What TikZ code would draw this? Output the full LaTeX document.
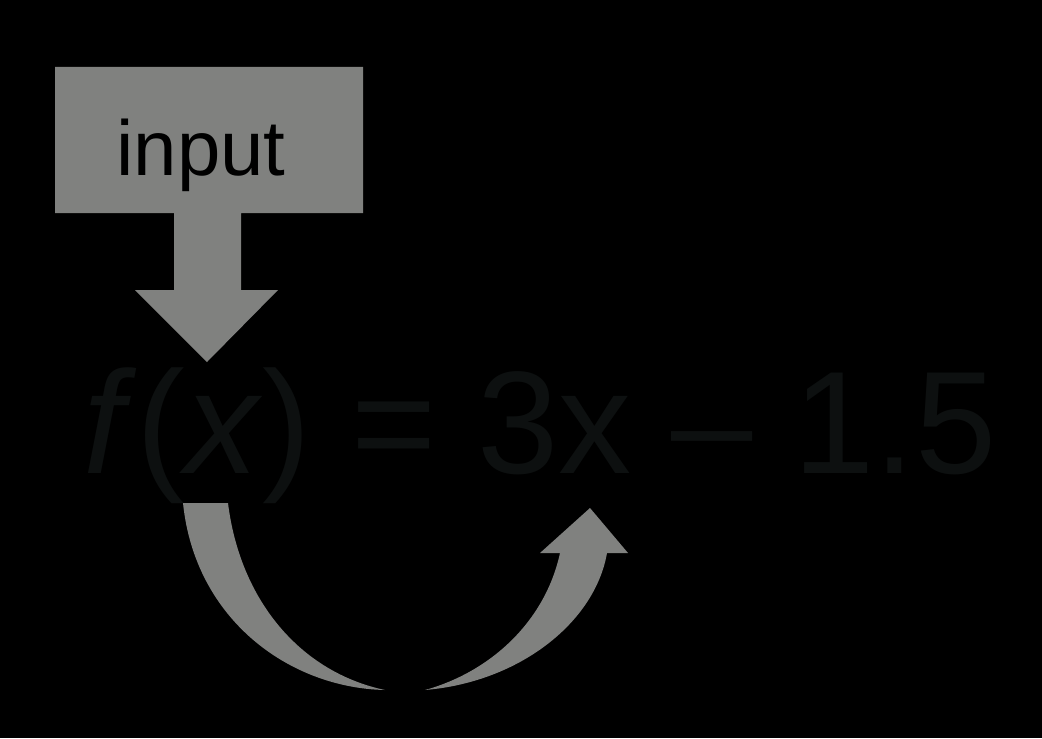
\documentclass[tikz,border=0pt]{standalone}
\usepackage{fontspec}
\setmainfont{Liberation Sans}
\usepackage{tikz}
\usetikzlibrary{arrows.meta,calc}

\definecolor{boxgray}{RGB}{128,129,127}
\definecolor{inkdark}{RGB}{13,16,16}

\begin{document}
\begin{tikzpicture}[x=0.5pt, y=-0.5pt, >=Stealth, thick]
    % 背景
    \fill[black] (0, 0) rectangle (1042, 738);
    \useasboundingbox (0, 0) rectangle (1042, 738);

    % 输入框与向下的箭头
    \fill[boxgray] (55, 67) -- (363, 67) -- (363, 213) -- (241, 213) -- (241, 290)
        -- (278, 290) -- (207, 362) -- (135, 290) -- (174, 290) -- (174, 213)
        -- (55, 213) -- cycle;
    \node[anchor=base, inner sep=0, text=black, font=\fontsize{39}{47}\selectfont]
        (input) at (201, 175) {input};

    % 函数式
    \node[anchor=base, inner sep=0, text=inkdark, font=\fontsize{73}{87}\selectfont]
        (func) at (540, 473) {\textit{f}(\textit{x}) = 3x \textendash{} 1.5};

    % 弯箭头 (左半)
    \fill[boxgray] (183, 503) .. controls (195, 620) and (290, 688) .. (385, 690)
        .. controls (300, 672) and (240, 600) .. (228, 503) -- cycle;
    % 弯箭头 (右半)
    \fill[boxgray] (425, 690) .. controls (520, 682) and (595, 622) .. (607, 553)
        -- (628, 553) -- (590, 508) -- (540, 553) -- (560, 553)
        .. controls (545, 622) and (490, 672) .. (425, 690) -- cycle;
\end{tikzpicture}
\end{document}
